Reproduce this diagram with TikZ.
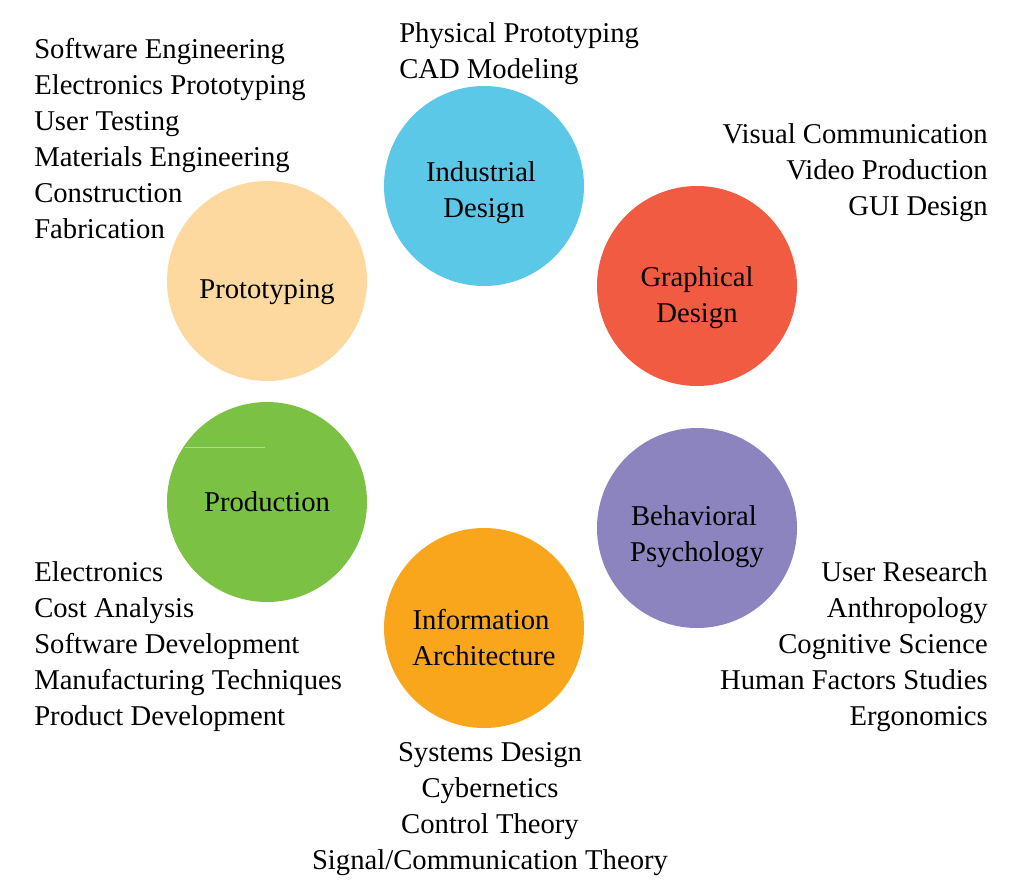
\documentclass[tikz,border=0pt]{standalone}
\usepackage{fontspec}
\setmainfont{Liberation Serif}
\definecolor{cInd}{HTML}{5BC8E8}
\definecolor{cGra}{HTML}{F05B41}
\definecolor{cPro}{HTML}{FDD9A0}
\definecolor{cPrd}{HTML}{7BC143}
\definecolor{cBeh}{HTML}{8B84BE}
\definecolor{cInf}{HTML}{F9A61C}
\definecolor{cStreak}{HTML}{B2DD8C}
\begin{document}
\begin{tikzpicture}[x=0.75pt,y=-0.75pt,
  bubble/.style={circle,minimum size=150pt,inner sep=0pt,draw=none},
  lbl/.style={inner sep=0pt,font=\fontsize{21.5}{27}\selectfont,text=black},
  lw/.style={lbl,anchor=base west},
  le/.style={lbl,anchor=base east},
  lc/.style={lbl,anchor=base}]
\useasboundingbox[fill=white] (0,0) rectangle (1024,886);
% circles
\node[bubble,fill=cInd] (ind) at (484,186) {};
\node[bubble,fill=cGra] (gra) at (697,286) {};
\node[bubble,fill=cPro] (pro) at (267,281) {};
\node[bubble,fill=cPrd] (prd) at (267,502) {};
\node[bubble,fill=cBeh] (beh) at (697,528) {};
\node[bubble,fill=cInf] (inf) at (484,628) {};
\coordinate (s1) at (185,447);
\coordinate (s2) at (265,447);
\draw[cStreak,line width=0.6pt] (s1) -- (s2);
% circle labels
\node[lc] (ind1) at (481,181) {Industrial};
\node[lc] (ind2) at (484,217) {Design};
\node[lc] (gra1) at (697,286) {Graphical};
\node[lc] (gra2) at (697,322) {Design};
\node[lc] (pro1) at (267,298) {Prototyping};
\node[lc] (prd1) at (267,511) {Production};
\node[lc] (beh1) at (694,525) {Behavioral};
\node[lc] (beh2) at (697,561) {Psychology};
\node[lc] (inf1) at (481,629) {Information};
\node[lc] (inf2) at (484,665) {Architecture};
% top-left list
\node[lw] (a1) at (34,58) {Software Engineering};
\node[lw] (a2) at (34,94) {Electronics Prototyping};
\node[lw] (a3) at (34,130) {User Testing};
\node[lw] (a4) at (34,166) {Materials Engineering};
\node[lw] (a5) at (34,202) {Construction};
\node[lw] (a6) at (34,238) {Fabrication};
% top centre list
\node[lw] (b1) at (399,42) {Physical Prototyping};
\node[lw] (b2) at (399,78) {CAD Modeling};
% top-right list
\node[le] (c1) at (988,143) {Visual Communication};
\node[le] (c2) at (988,179) {Video Production};
\node[le] (c3) at (988,215) {GUI Design};
% bottom-left list
\node[lw] (d1) at (34,581) {Electronics};
\node[lw] (d2) at (34,617) {Cost Analysis};
\node[lw] (d3) at (34,653) {Software Development};
\node[lw] (d4) at (34,689) {Manufacturing Techniques};
\node[lw] (d5) at (34,725) {Product Development};
% bottom-right list
\node[le] (e1) at (988,581) {User Research};
\node[le] (e2) at (988,617) {Anthropology};
\node[le] (e3) at (988,653) {Cognitive Science};
\node[le] (e4) at (988,689) {Human Factors Studies};
\node[le] (e5) at (988,725) {Ergonomics};
% bottom centre list
\node[lc] (f1) at (490,761) {Systems Design};
\node[lc] (f2) at (490,797) {Cybernetics};
\node[lc] (f3) at (490,833) {Control Theory};
\node[lc] (f4) at (490,869) {Signal/Communication Theory};
\end{tikzpicture}
\end{document}
